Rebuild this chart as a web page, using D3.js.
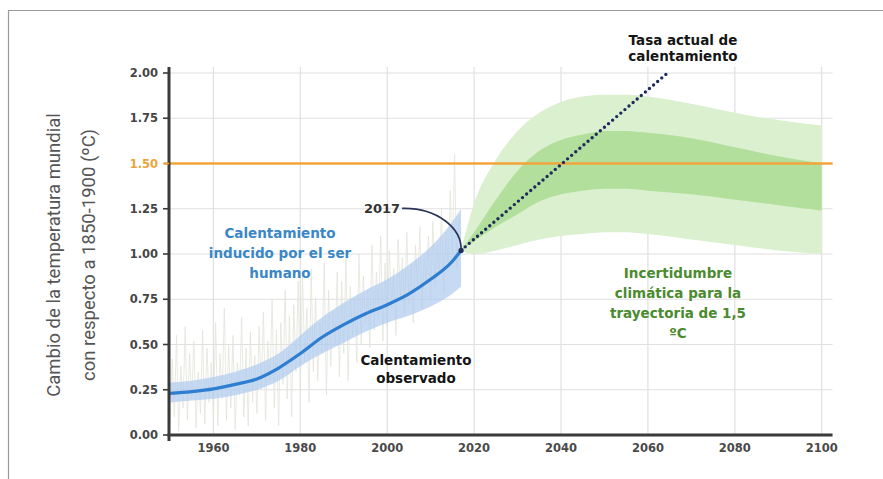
<!DOCTYPE html>
<html>
<head>
<meta charset="utf-8">
<script src="https://cdn.jsdelivr.net/npm/d3@7"></script>
<style>
  html, body { margin: 0; padding: 0; background: #fff; }
  svg { display: block; }
</style>
</head>
<body>
<svg id="chart" width="883" height="479"></svg>
<script>
// Warming relative to 1850-1900 (°C)
const yTicks = [0, 0.25, 0.5, 0.75, 1.0, 1.25, 1.5, 1.75, 2.0];
const xTicks = [1960, 1980, 2000, 2020, 2040, 2060, 2080, 2100];

// Human-induced warming with its likely range
const humanYears = [1950, 1955, 1960, 1965, 1970, 1975, 1980, 1985, 1990, 1995, 2000, 2005, 2010, 2015, 2017];
const humanMean  = [0.23, 0.24, 0.255, 0.28, 0.31, 0.37, 0.45, 0.54, 0.61, 0.67, 0.72, 0.78, 0.86, 0.96, 1.02];
const humanHigh  = [0.29, 0.30, 0.32, 0.35, 0.39, 0.45, 0.55, 0.65, 0.73, 0.80, 0.86, 0.94, 1.04, 1.18, 1.25];
const humanLow   = [0.18, 0.19, 0.20, 0.22, 0.25, 0.30, 0.38, 0.45, 0.51, 0.57, 0.62, 0.66, 0.71, 0.78, 0.82];

// Observed temperature, half-year steps from 1950
const obsStart = 1950;
const obsStep = 0.5;
const obsValues = [
  0.05, 0.42, 0.10, 0.55, 0.02, 0.38, 0.15, 0.60, 0.08, 0.45, 0.20, 0.52, 0.04, 0.35, 0.12, 0.58, 0.06, 0.48, 0.18, 0.40,
  0.10, 0.62, 0.05, 0.45, 0.20, 0.70, 0.08, 0.50, 0.15, 0.55, 0.03, 0.40, 0.22, 0.65, 0.10, 0.48, 0.05, 0.57, 0.18, 0.44,
  0.12, 0.60, 0.25, 0.68, 0.08, 0.52, 0.30, 0.75, 0.15, 0.58, 0.05, 0.62, 0.28, 0.80, 0.20, 0.66, 0.10, 0.72, 0.35, 0.85,
  0.25, 0.88, 0.40, 0.70, 0.18, 0.92, 0.35, 0.76, 0.30, 0.62, 0.45, 0.95, 0.22, 0.80, 0.38, 0.68, 0.50, 0.90, 0.32, 0.85,
  0.45, 0.98, 0.30, 0.82, 0.55, 0.75, 0.40, 1.00, 0.50, 0.88, 0.62, 0.80, 0.48, 1.05, 0.58, 0.90, 0.65, 1.10, 0.52, 0.95,
  0.60, 1.02, 0.70, 0.92, 0.55, 1.08, 0.75, 0.98, 0.66, 1.12, 0.72, 0.95, 0.62, 1.05, 0.80, 1.15, 0.70, 0.98, 0.85, 1.10,
  0.75, 1.18, 0.82, 1.05, 0.90, 1.25, 0.78, 1.12, 0.95, 1.35, 1.00, 1.55, 0.92, 1.20, 1.05
];

// Climate uncertainty for the 1.5 °C pathway
const pathYears  = [2017, 2020, 2025, 2030, 2035, 2040, 2045, 2050, 2055, 2060, 2070, 2080, 2090, 2100];
const outerHigh  = [1.02, 1.28, 1.52, 1.68, 1.78, 1.84, 1.87, 1.88, 1.88, 1.87, 1.83, 1.78, 1.74, 1.71];
const innerHigh  = [1.02, 1.12, 1.30, 1.46, 1.57, 1.63, 1.66, 1.68, 1.68, 1.67, 1.64, 1.59, 1.54, 1.50];
const innerLow   = [1.02, 1.07, 1.15, 1.22, 1.29, 1.33, 1.35, 1.36, 1.36, 1.35, 1.33, 1.30, 1.27, 1.24];
const outerLow   = [1.02, 1.00, 1.02, 1.05, 1.08, 1.10, 1.11, 1.12, 1.12, 1.11, 1.08, 1.05, 1.02, 1.00];

// Current rate of warming, extended
const rateYears  = [2017, 2064.5];
const rateValues = [1.02, 2.00];

const threshold = 1.5;

const svg = d3.select("#chart");
const x = d3.scaleLinear().domain([1950, 2100]).range([170, 821.7]);
const y = d3.scaleLinear().domain([0, 2]).range([435, 73]);
const xEnd = 2102.5;

// frame
svg.append("line").attr("x1", 8).attr("x2", 883).attr("y1", 10.5).attr("y2", 10.5)
  .attr("stroke", "#9a9a9a").attr("stroke-width", 1.2);
svg.append("line").attr("x1", 8.5).attr("x2", 8.5).attr("y1", 10).attr("y2", 479)
  .attr("stroke", "#9a9a9a").attr("stroke-width", 1.2);

// grid
const grid = svg.append("g").attr("stroke", "#e0e0e0").attr("stroke-width", 1.2);
grid.selectAll("line.h").data(yTicks.filter(d => d > 0)).join("line")
  .attr("x1", x(1950)).attr("x2", x(xEnd))
  .attr("y1", d => y(d)).attr("y2", d => y(d));
grid.selectAll("line.v").data(xTicks).join("line")
  .attr("x1", d => x(d)).attr("x2", d => x(d))
  .attr("y1", y(2) - 6).attr("y2", y(0));

// observed temperature
const obsLine = d3.line()
  .x((d, i) => x(obsStart + i * obsStep))
  .y(d => y(d));
svg.append("path").datum(obsValues)
  .attr("d", obsLine)
  .attr("fill", "none").attr("stroke", "#e2e4da").attr("stroke-width", 0.8);

// uncertainty bands
const band = (hi, lo) => d3.area()
  .x((d, i) => x(pathYears[i]))
  .y0((d, i) => y(lo[i]))
  .y1((d, i) => y(hi[i]))
  .curve(d3.curveMonotoneX);
svg.append("path").datum(pathYears).attr("d", band(outerHigh, outerLow)).attr("fill", "#daf0cf");
svg.append("path").datum(pathYears).attr("d", band(innerHigh, innerLow)).attr("fill", "#b2df9b");

// human-induced range and central estimate
svg.append("path").datum(humanYears)
  .attr("d", d3.area()
    .x(d => x(d))
    .y0((d, i) => y(humanLow[i]))
    .y1((d, i) => y(humanHigh[i]))
    .curve(d3.curveMonotoneX))
  .attr("fill", "#aecbef").attr("opacity", 0.7);
svg.append("path").datum(humanYears)
  .attr("d", d3.line()
    .x(d => x(d))
    .y((d, i) => y(humanMean[i]))
    .curve(d3.curveMonotoneX))
  .attr("fill", "none").attr("stroke", "#2d7dd0").attr("stroke-width", 3.2);

// 1.5 °C threshold
svg.append("line")
  .attr("x1", x(1950) - 6).attr("x2", x(xEnd))
  .attr("y1", y(threshold)).attr("y2", y(threshold))
  .attr("stroke", "#f0a43a").attr("stroke-width", 2.4);

// current rate extension
svg.append("path").datum(rateYears)
  .attr("d", d3.line().x(d => x(d)).y((d, i) => y(rateValues[i])))
  .attr("fill", "none").attr("stroke", "#1e2b5c").attr("stroke-width", 3.4)
  .attr("stroke-linecap", "round").attr("stroke-dasharray", "0 5.4");

// 2017 marker and annotation
const px = x(rateYears[0]), py = y(rateValues[0]);
svg.append("circle").attr("cx", px).attr("cy", py).attr("r", 2.6).attr("fill", "#1e2b5c");
const sx = px - 59, sy = py - 42;
svg.append("path")
  .attr("d", `M${sx},${sy} C${sx + 35},${sy - 1} ${px + 1},${py - 22} ${px},${py}`)
  .attr("fill", "none").attr("stroke", "#2a3558").attr("stroke-width", 1.6);
svg.append("text").attr("x", sx - 2).attr("y", sy + 5)
  .attr("text-anchor", "end")
  .attr("font-family", "DejaVu Sans, sans-serif").attr("font-weight", "bold")
  .attr("font-size", 13).attr("fill", "#333").text("2017");

// axes
const axisColor = "#3a3a3a";
svg.append("line").attr("x1", x(1950) - 1).attr("x2", x(1950) - 1)
  .attr("y1", y(2) - 6).attr("y2", y(0) + 6)
  .attr("stroke", axisColor).attr("stroke-width", 3);
svg.append("line").attr("x1", x(1950) - 2.5).attr("x2", x(xEnd))
  .attr("y1", y(0)).attr("y2", y(0))
  .attr("stroke", axisColor).attr("stroke-width", 3);

const yAxis = svg.append("g");
yAxis.selectAll("line").data(yTicks).join("line")
  .attr("x1", x(1950) - 7).attr("x2", x(1950) - 1)
  .attr("y1", d => y(d)).attr("y2", d => y(d))
  .attr("stroke", d => d === threshold ? "#f0a43a" : axisColor).attr("stroke-width", 1.6);
yAxis.selectAll("text").data(yTicks).join("text")
  .attr("x", x(1950) - 12).attr("y", d => y(d)).attr("dy", "0.36em")
  .attr("text-anchor", "end")
  .attr("font-family", "DejaVu Sans, sans-serif").attr("font-weight", "bold")
  .attr("font-size", 11.5)
  .attr("fill", d => d === threshold ? "#eaa43c" : "#454545")
  .text(d => d3.format(".2f")(d));

svg.append("g").selectAll("text").data(xTicks).join("text")
  .attr("x", d => x(d)).attr("y", y(0) + 17)
  .attr("text-anchor", "middle")
  .attr("font-family", "DejaVu Sans, sans-serif").attr("font-weight", "bold")
  .attr("font-size", 11.5).attr("fill", "#4a4a4a")
  .text(d => d);

// y title
const yTitle = svg.append("text")
  .attr("transform", "translate(0,255) rotate(-90)")
  .attr("text-anchor", "middle")
  .attr("font-family", "Roboto, sans-serif")
  .attr("font-size", 18.5).attr("fill", "#555");
yTitle.append("tspan").attr("x", 0).attr("y", 60).text("Cambio de la temperatura mundial");
yTitle.append("tspan").attr("x", 0).attr("y", 95).text("con respecto a 1850-1900 (ºC)");

// labels
function label(lines, cx, cy0, gap, color) {
  const t = svg.append("text")
    .attr("text-anchor", "middle")
    .attr("font-family", "DejaVu Sans, sans-serif").attr("font-weight", "bold")
    .attr("font-size", 13.5).attr("fill", color);
  lines.forEach((s, i) => t.append("tspan").attr("x", cx).attr("y", cy0 + i * gap).attr("dy", "0.36em").text(s));
}
label(["Calentamiento", "inducido por el ser", "humano"], 280, 233, 20, "#3a87c8");
label(["Calentamiento", "observado"], 416, 360, 18, "#151515");
label(["Tasa actual de", "calentamiento"], 683, 40, 16, "#151515");
label(["Incertidumbre", "climática para la", "trayectoria de 1,5", "ºC"], 678, 273, 20, "#4b8a2f");
</script>
</body>
</html>
